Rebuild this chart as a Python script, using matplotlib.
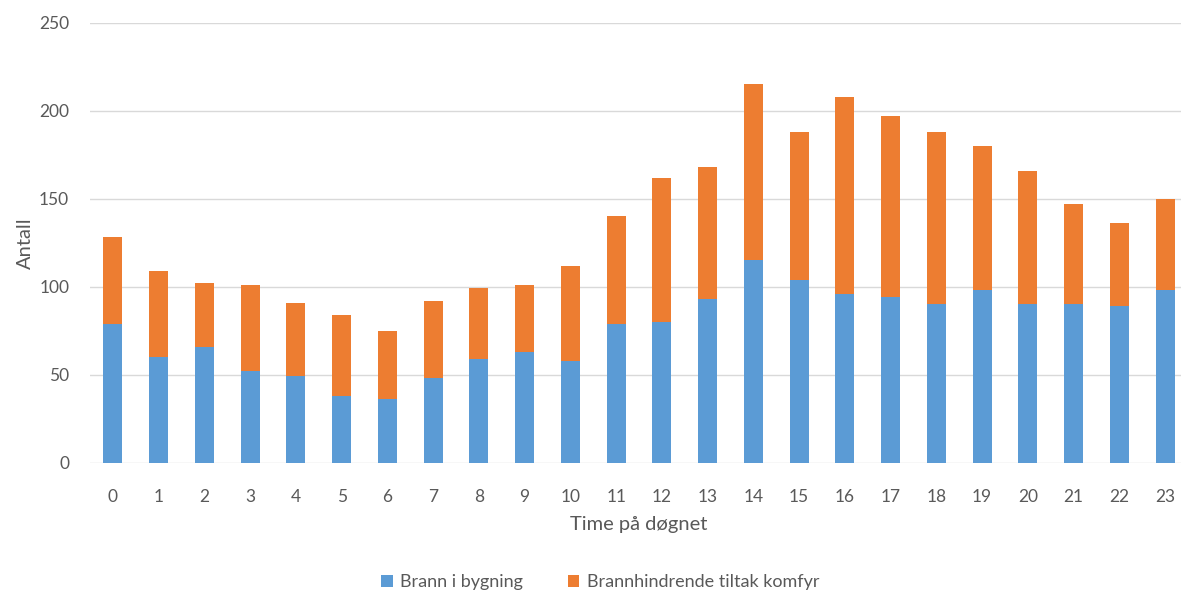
import numpy as np
import matplotlib.pyplot as plt

## Data
timer = list(range(24))
brann_bygning = [79, 60, 66, 52, 49, 38, 36, 48, 59, 63, 58, 79,
                 80, 93, 115, 104, 96, 94, 90, 98, 90, 90, 89, 98]
komfyr = [49, 49, 36, 49, 42, 46, 39, 44, 40, 38, 54, 61,
          82, 75, 100, 84, 112, 103, 98, 82, 76, 57, 47, 52]

plt.rcParams['font.family'] = ['Lato', 'DejaVu Sans']

fig = plt.figure(figsize=(11.81, 5.93), dpi=100)
ax = fig.add_axes([90/1181, 130.3/593, 1098/1181, 440/593])

x = np.arange(len(timer))
ax.bar(x, brann_bygning, width=0.41, color='#5B9BD5', label='Brann i bygning', zorder=3)
ax.bar(x, komfyr, width=0.41, bottom=brann_bygning, color='#ED7D31',
       label='Brannhindrende tiltak komfyr', zorder=3)

ax.set_xlim(-0.5, 23.5)
ax.set_ylim(0, 250)
ax.set_yticks(range(0, 251, 50))
ax.set_xticks(x)
ax.set_xticklabels([str(t) for t in timer])
ax.yaxis.grid(True, color='#d9d9d9', linewidth=1, zorder=0)
for s in ax.spines.values():
    s.set_visible(False)
ax.tick_params(axis='both', length=0, colors='#595959', labelsize=12.5)
ax.tick_params(axis='x', pad=19)
ax.tick_params(axis='y', pad=15)

ax.set_xlabel('Time på døgnet', fontsize=14.5, color='#595959', labelpad=8)
ax.set_ylabel('Antall', fontsize=14.5, color='#595959', labelpad=4)

ax.legend(loc='center', bbox_to_anchor=(600/1181, 11/593), bbox_transform=fig.transFigure,
          ncol=2, frameon=False, fontsize=13, labelcolor='#595959',
          handlelength=0.65, handleheight=0.65, columnspacing=2.5, handletextpad=0.4)

plt.savefig('out.png', dpi=100)
